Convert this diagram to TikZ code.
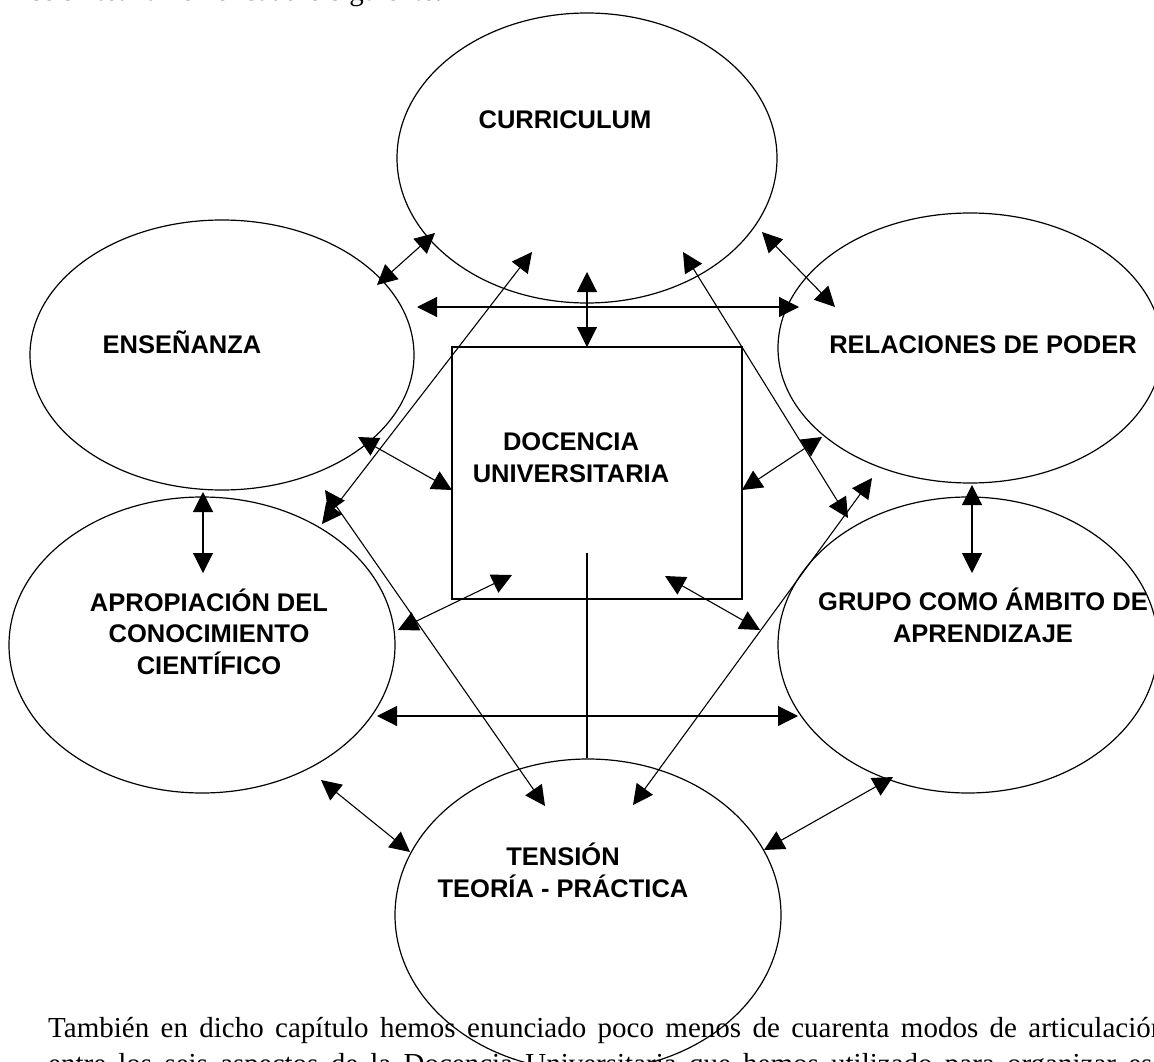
\documentclass[tikz,border=0pt]{standalone}
\usepackage{fontspec}
\setmainfont{Liberation Serif}
\setsansfont{Liberation Sans}
\usetikzlibrary{shapes.geometric,arrows.meta}
\tikzset{
  ell/.style={draw, line width=1.2pt, ellipse, inner sep=0pt},
  boxed/.style={draw, line width=1.2pt, rectangle, inner sep=0pt},
  lbl/.style={font=\sffamily\bfseries\fontsize{25.5}{31.5}\selectfont, align=center, inner sep=0pt, anchor=base},
  dbl/.style={line width=1.1pt, {Triangle[length=20pt,width=20pt]}-{Triangle[length=20pt,width=20pt]}},
  plainline/.style={line width=1.1pt},
  body/.style={font=\fontsize{29}{34}\selectfont, inner sep=0pt, anchor=base west}
}
\begin{document}
\begin{tikzpicture}[x=1pt,y=-1pt]
\useasboundingbox (0,0) rectangle (1154,1062);
\clip (0,0) rectangle (1154,1062);
\fill[white] (0,0) rectangle (1154,1062);

% ellipses and box
\node[ell, minimum width=380pt, minimum height=290pt] (curr) at (587,158) {};
\node[ell, minimum width=384pt, minimum height=270pt] (ens) at (222,355) {};
\node[ell, minimum width=384pt, minimum height=270pt] (rel) at (970,348) {};
\node[ell, minimum width=386pt, minimum height=296pt] (aprop) at (202,645) {};
\node[ell, minimum width=380pt, minimum height=296pt] (grupo) at (968,645) {};
\node[ell, minimum width=386pt, minimum height=312pt] (tens) at (588,915) {};
\node[boxed, minimum width=290pt, minimum height=252pt] (box) at (597,473) {};

% labels (anchor base = baseline of the last line)
\node[lbl] (tcurr) at (565,129) {CURRICULUM};
\node[lbl] (tens0) at (182,353) {ENSEÑANZA};
\node[lbl] (trel) at (983,353) {RELACIONES DE PODER};
\node[lbl] (tdoc) at (571,482) {DOCENCIA\\UNIVERSITARIA};
\node[lbl] (taprop) at (209,674) {APROPIACIÓN DEL\\CONOCIMIENTO\\CIENTÍFICO};
\node[lbl] (tgrupo) at (983,642) {GRUPO COMO ÁMBITO DE\\APRENDIZAJE};
\node[lbl] (ttens) at (563,897) {TENSIÓN\\TEORÍA - PRÁCTICA};

% connector end points
\coordinate (a1) at (377,285); \coordinate (a2) at (435,233);
\coordinate (b1) at (762,232); \coordinate (b2) at (835,307);
\coordinate (c1) at (417,307); \coordinate (c2) at (799,307);
\coordinate (d1) at (587,272); \coordinate (d2) at (587,347);
\coordinate (e1) at (358,437); \coordinate (e2) at (452,490);
\coordinate (f1) at (742,490); \coordinate (f2) at (822,437);
\coordinate (g1) at (398,630); \coordinate (g2) at (512,575);
\coordinate (h1) at (665,576); \coordinate (h2) at (760,630);
\coordinate (i1) at (203,492); \coordinate (i2) at (203,573);
\coordinate (j1) at (972,485); \coordinate (j2) at (972,573);
\coordinate (k1) at (377,716); \coordinate (k2) at (798,716);
\coordinate (l1) at (321,780); \coordinate (l2) at (410,852);
\coordinate (m1) at (893,777); \coordinate (m2) at (764,850);
\coordinate (n1) at (325,490); \coordinate (n2) at (545,806);
\coordinate (o1) at (872,478); \coordinate (o2) at (633,805);
\coordinate (p1) at (322,524); \coordinate (p2) at (532,252);
\coordinate (q1) at (683,252); \coordinate (q2) at (848,518);
\coordinate (vtop) at (587,553);

% connectors
\draw[dbl] (a1) -- (a2);
\draw[dbl] (b1) -- (b2);
\draw[dbl] (c1) -- (c2);
\draw[dbl] (d1) -- (d2);
\draw[dbl] (e1) -- (e2);
\draw[dbl] (f1) -- (f2);
\draw[dbl] (g1) -- (g2);
\draw[dbl] (h1) -- (h2);
\draw[dbl] (i1) -- (i2);
\draw[dbl] (j1) -- (j2);
\draw[dbl] (k1) -- (k2);
\draw[dbl] (l1) -- (l2);
\draw[dbl] (m1) -- (m2);
\draw[dbl] (n1) -- (n2);
\draw[dbl] (o1) -- (o2);
\draw[dbl] (p1) -- (p2);
\draw[dbl] (q1) -- (q2);
\draw[plainline] (vtop) -- (vtop |- tens.north);

% surrounding text (cut by the page edges as in the reference)
\node[body] (top) at (31,0.8) {se sintetizan en el cuadro siguiente:};
\node[body] (line1) at (48,1037) {\makebox[1117pt][s]{También en dicho capítulo hemos enunciado poco menos de cuarenta modos de articulación}};
\node[body] (line2) at (48,1073) {\makebox[1117pt][s]{entre los seis aspectos de la Docencia Universitaria que hemos utilizado para organizar esa}};
\end{tikzpicture}
\end{document}
